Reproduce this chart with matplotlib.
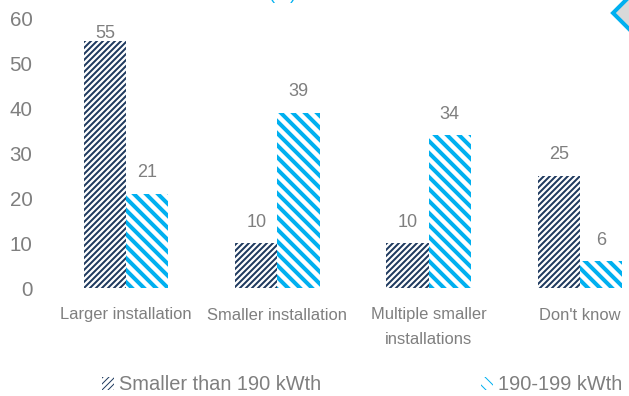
import matplotlib
matplotlib.use("Agg")
import matplotlib.pyplot as plt
import numpy as np
from matplotlib.patches import Patch, Polygon

categories = ["Larger installation", "Smaller installation",
              "Multiple smaller\ninstallations", "Don't know"]
series_names = ["Smaller than 190 kWth", "190-199 kWth"]
smaller_190 = [55, 10, 10, 25]
kwth_190_199 = [21, 39, 34, 6]
y_ticks = [0, 10, 20, 30, 40, 50, 60]

NAVY = "#1F3A5F"
CYAN = "#00B0F0"
GREY = "#7F7F7F"

plt.rcParams["font.family"] = ["Liberation Sans", "DejaVu Sans"]

W, H, DPI = 629, 396, 72
fig = plt.figure(figsize=(W / DPI, H / DPI), dpi=DPI)
fig.patch.set_facecolor("white")

# axes spans past the right edge, as in the original slide crop
ax = fig.add_axes([50.5 / W, 108 / H, 605 / W, 269.5 / H])

x = np.arange(len(categories))
bw = 0.28
DARK_HATCH = "////"
LIGHT_HATCH = "\\\\"

def hatched_bars(xpos, vals, color, hatch, lw):
    with plt.rc_context({"hatch.linewidth": lw}):
        bars = ax.bar(xpos, vals, bw, facecolor="white", edgecolor=color,
                      linewidth=0, hatch=hatch)
        for b in bars:
            if hasattr(b, "set_hatch_linewidth"):
                b.set_hatch_linewidth(lw)
    return bars

b1 = hatched_bars(x - bw / 2, smaller_190, NAVY, DARK_HATCH, 2.0)
b2 = hatched_bars(x + bw / 2, kwth_190_199, CYAN, LIGHT_HATCH, 4.0)

ax.set_xlim(-0.5, 3.5)
ax.set_ylim(0, 60)

# value labels sit above each bar; labels that would run past the plot
# top are pulled down to stay inside, like spreadsheet charts do
px_per_unit = (269.5) / 60.0
label_gap = 16.5 / px_per_unit
label_cap = 55.7
for bars, vals in ((b1, smaller_190), (b2, kwth_190_199)):
    for b, v in zip(bars, vals):
        ax.text(b.get_x() + b.get_width() / 2, min(v + label_gap, label_cap),
                f"{v}", ha="center", va="baseline", fontsize=18, color=GREY)

ax.set_yticks(y_ticks)
ax.set_xticks(x)
ax.set_xticklabels(categories, fontsize=16.5, color=GREY, linespacing=1.75)
ax.tick_params(axis="y", length=0, pad=18, labelsize=20.5, labelcolor=GREY)
ax.tick_params(axis="x", length=0, pad=19.5)
for s in ax.spines.values():
    s.set_visible(False)

with plt.rc_context({"hatch.linewidth": 2.0}):
    handles = [Patch(facecolor="white", edgecolor=NAVY, linewidth=0,
                     hatch=DARK_HATCH),
               Patch(facecolor="white", edgecolor=CYAN, linewidth=0,
                     hatch=LIGHT_HATCH)]
leg = fig.legend(handles, series_names, loc="center left",
                 bbox_to_anchor=(102 / W, 11 / H), ncol=2, frameon=False,
                 fontsize=20, handlelength=0.6, handleheight=0.6,
                 handletextpad=0.25, columnspacing=8.0, borderpad=0,
                 borderaxespad=0)
for t in leg.get_texts():
    t.set_color(GREY)

# clipped heading and corner marker from the slide
fig.text(283 / W, 397 / H, "(%)", color=CYAN, fontsize=18,
         ha="center", va="baseline")
cx, cy, r = 632, 396 - 13, 19
fig.add_artist(Polygon([[cx - r, cy], [cx, cy + r], [cx + r, cy], [cx, cy - r]],
                       closed=True, transform=None, facecolor="#D9D9D9",
                       edgecolor=CYAN, linewidth=4))

fig.savefig("out.png", dpi=DPI)
